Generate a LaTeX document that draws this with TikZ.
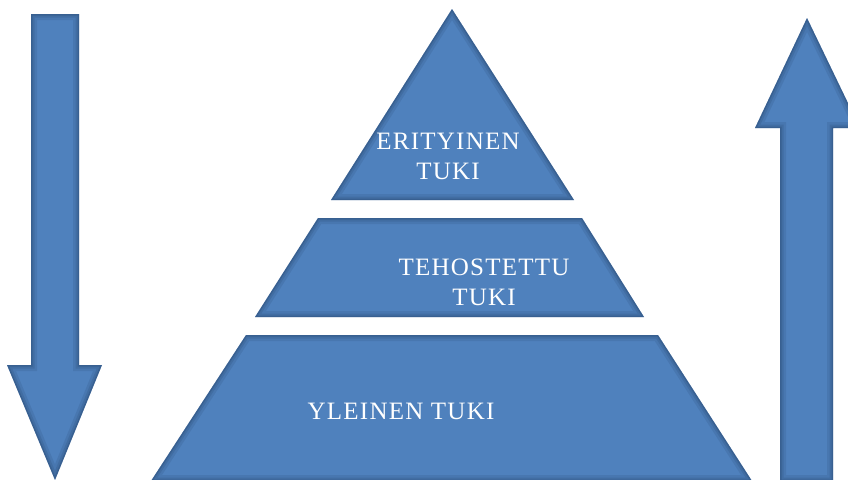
\documentclass[tikz,border=0pt]{standalone}
\usepackage{fontspec}
\setmainfont{Liberation Serif}[LetterSpace=5]
\definecolor{fillblue}{HTML}{4F81BD}
\definecolor{shadowc}{HTML}{1C3557}
\newcommand\blueshape[1]{%
  \fill[fillblue] #1;
  \begin{scope}
    \clip #1;
    \draw[shadowc, line width=12pt, opacity=0.12, line join=miter] #1;
    \draw[shadowc, line width=7pt, opacity=0.15, line join=miter] #1;
    \draw[shadowc, line width=3pt, opacity=0.22, line join=miter] #1;
  \end{scope}}
\tikzset{lbl/.style={text=white, font=\fontsize{25}{30}\selectfont, align=center, inner sep=0pt}}
\begin{document}
\begin{tikzpicture}[x=1pt,y=-1pt]
\useasboundingbox (0,0) rectangle (848,479);
% left arrow (down)
\blueshape{(31,14) -- (79,14) -- (79,365) -- (102,365) -- (55,480) -- (7,365) -- (31,365) -- cycle}
% right arrow (up)
\blueshape{(807,18) -- (860,128) -- (833,128) -- (833,481) -- (780,481) -- (780,128) -- (755,128) -- cycle}
% pyramid
\blueshape{(452,9) -- (574,200) -- (331,200) -- cycle}
\blueshape{(318,218) -- (582,218) -- (644,317) -- (255,317) -- cycle}
\blueshape{(246,335) -- (658,335) -- (752,481) -- (151,481) -- cycle}
\node[lbl] (top) at (448,156) {ERITYINEN\\TUKI};
\node[lbl] (mid) at (484,282) {TEHOSTETTU\\TUKI};
\node[lbl] (bot) at (401,411) {YLEINEN TUKI};
\end{tikzpicture}
\end{document}
